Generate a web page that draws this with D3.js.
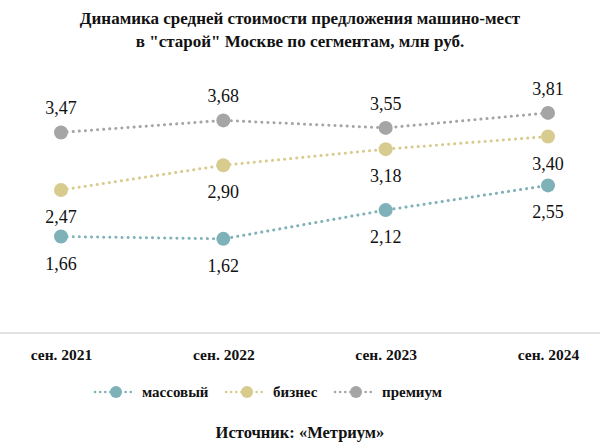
<!DOCTYPE html>
<html><head><meta charset="utf-8">
<script src="https://cdn.jsdelivr.net/npm/d3@7"></script>
<style>body{margin:0;background:#fff}svg{display:block}</style>
</head><body><svg id="c" width="600" height="448" font-family="Liberation Serif"></svg>
<script>
const categories = ["сен. 2021","сен. 2022","сен. 2023","сен. 2024"];
const massValues = [1.66,1.62,2.12,2.55];
const businessValues = [2.47,2.90,3.18,3.40];
const premiumValues = [3.47,3.68,3.55,3.81];
const seriesNames = ["массовый","бизнес","премиум"];
const colors = ["#7fb2b8","#d8cb8e","#a5a5a5"];
const titleLines = ["Динамика средней стоимости предложения машино-мест","в \"старой\" Москве по сегментам, млн руб."];
const source = "Источник: «Метриум»";

const series = [
  {name:seriesNames[0], values:massValues, color:colors[0], labelPos:"below"},
  {name:seriesNames[1], values:businessValues, color:colors[1], labelPos:"below"},
  {name:seriesNames[2], values:premiumValues, color:colors[2], labelPos:"above"}
];
const fmt = v => d3.format(".2f")(v).replace(".", ",");
const svg = d3.select("#c");
const FF = "Liberation Serif";

const x = d3.scalePoint().domain(categories).range([61,548]);
const y = d3.scaleLinear().domain([0,4]).range([332,102]);

svg.append("g").selectAll("text").data(titleLines).join("text")
  .attr("x",300).attr("y",(d,i)=>24+i*23).attr("text-anchor","middle")
  .attr("font-family",FF).attr("font-weight","bold").attr("font-size",17).attr("fill","#111")
  .text(d=>d);

// axis
const ax = svg.append("g").attr("transform","translate(0,333)")
  .call(d3.axisBottom(x).tickSize(0).tickPadding(16))
  .attr("font-family",FF);
ax.select(".domain").remove();
ax.append("line").attr("x1",0).attr("x2",600).attr("stroke","#d9d9d9").attr("stroke-width",1.5);
ax.selectAll(".tick text").attr("font-family",FF).attr("font-weight","bold")
  .attr("font-size",15.5).attr("fill","#111");

const line = d3.line().x((d,i)=>x(categories[i])).y(d=>y(d));
series.forEach(s=>{
  const g = svg.append("g");
  g.append("path").attr("d",line(s.values)).attr("fill","none").attr("stroke",s.color)
    .attr("stroke-width",3).attr("stroke-dasharray","0.1 6").attr("stroke-linecap","round");
  g.selectAll("circle").data(s.values).join("circle")
    .attr("cx",(d,i)=>x(categories[i])).attr("cy",d=>y(d)).attr("r",7).attr("fill",s.color);
  g.selectAll("text").data(s.values).join("text")
    .attr("x",(d,i)=>x(categories[i])).attr("y",d=>y(d)+(s.labelPos==="above"?-18:33))
    .attr("text-anchor","middle").attr("font-family",FF).attr("font-size",18).attr("fill","#111")
    .text(d=>fmt(d));
});

// legend
const legX = [95,226,335];
const leg = svg.append("g");
series.forEach((s,i)=>{
  const g = leg.append("g").attr("transform",`translate(${legX[i]},392)`);
  g.append("line").attr("x1",0).attr("x2",38).attr("stroke",s.color).attr("stroke-width",2.5)
    .attr("stroke-dasharray","0.1 5").attr("stroke-linecap","round");
  g.append("circle").attr("cx",21).attr("r",6).attr("fill",s.color);
  g.append("text").attr("x",47).attr("y",5).attr("font-family",FF).attr("font-weight","bold")
    .attr("font-size",15).attr("fill","#111").text(s.name);
});

svg.append("text").attr("x",300).attr("y",438).attr("text-anchor","middle")
  .attr("font-family",FF).attr("font-weight","bold").attr("font-size",16.5).attr("fill","#111")
  .text(source);
</script></body></html>
